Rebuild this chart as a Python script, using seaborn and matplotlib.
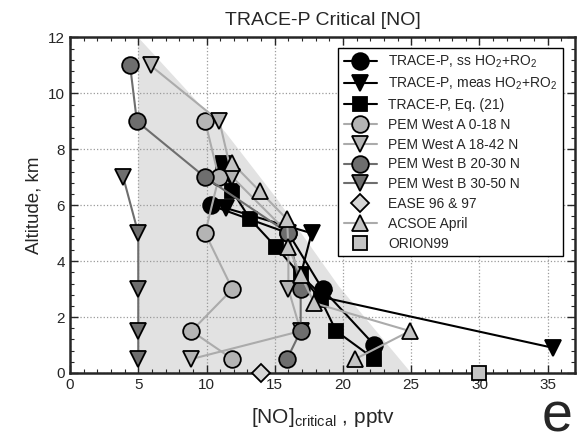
import numpy as np
import matplotlib
matplotlib.use("Agg")
import matplotlib.pyplot as plt
from matplotlib.ticker import MultipleLocator
import seaborn as sns

sns.set_style("ticks")
plt.rcParams.update({
    "font.family": ["Liberation Sans", "DejaVu Sans"],
    "mathtext.default": "regular",
    "xtick.direction": "in",
    "ytick.direction": "in",
    "xtick.top": True,
    "ytick.right": True,
})

BLACK = "#000000"
DARK = "#6e6e6e"
LIGHT = "#b4b4b4"
LIGHTLINE = "#ababab"
SHADE = "#e2e2e2"

# TRACE-P
ss_x = [10.3, 16.0, 18.5, 22.3]
ss_y = [6.0, 5.0, 3.0, 1.0]
meas_x = [11.4, 17.7, 16.9, 18.6, 35.4]
meas_y = [5.9, 5.0, 3.5, 2.7, 0.9]
eq_x = [11.2, 11.9, 13.2, 15.1, 16.9, 18.4, 19.5, 22.3]
eq_y = [7.5, 6.5, 5.5, 4.5, 3.5, 2.6, 1.5, 0.5]

# PEM West A / B
pwa1_x = [9.9, 10.9, 9.9, 11.9, 8.9, 11.9]
pwa1_y = [9.0, 7.0, 5.0, 3.0, 1.5, 0.5]
pwa2_x = [5.9, 10.95, 11.9, 16.0, 16.0, 16.9, 8.9]
pwa2_y = [11.0, 9.0, 7.0, 5.0, 3.0, 1.5, 0.5]
pwb1_x = [4.4, 4.9, 9.9, 16.0, 16.9, 16.9, 15.9]
pwb1_y = [11.0, 9.0, 7.0, 5.0, 3.0, 1.5, 0.5]
pwb2_x = [3.9, 5.0, 5.0, 5.0, 5.0]
pwb2_y = [7.0, 5.0, 3.0, 1.5, 0.5]

# others
ease_x = [14.0]
ease_y = [0.0]
acsoe_x = [11.9, 13.9, 15.9, 16.0, 16.9, 17.9, 24.9, 20.9]
acsoe_y = [7.5, 6.5, 5.5, 4.5, 3.5, 2.5, 1.5, 0.5]
orion_x = [30.0]
orion_y = [0.0]

# shaded envelope
shade_x = [5.0, 5.0, 11.4, 15.2, 19.7, 25.0]
shade_y = [0.0, 12.0, 8.6, 6.2, 3.1, 0.0]

fig = plt.figure(figsize=(5.82, 4.45), dpi=100)
ax = fig.add_axes([0.1203, 0.1618, 0.8677, 0.754])

ax.fill(shade_x, shade_y, color=SHADE, lw=0, zorder=0.5)


def series(x, y, label, marker, fill, line, ms=12, ls="-"):
    sns.lineplot(x=x, y=y, sort=False, estimator=None, ax=ax, label=label,
                 color=line, marker=marker, markersize=ms,
                 markerfacecolor=fill, markeredgecolor=BLACK,
                 markeredgewidth=1.3, linewidth=1.5, linestyle=ls,
                 clip_on=False, zorder=3)


series(ss_x, ss_y, "TRACE-P, ss HO$_2$+RO$_2$", "o", BLACK, BLACK)
series(meas_x, meas_y, "TRACE-P, meas HO$_2$+RO$_2$", "v", BLACK, BLACK)
series(eq_x, eq_y, "TRACE-P, Eq. (21)", "s", BLACK, BLACK, ms=10.5)
series(pwa1_x, pwa1_y, "PEM West A 0-18 N", "o", LIGHT, LIGHTLINE)
series(pwa2_x, pwa2_y, "PEM West A 18-42 N", "v", LIGHT, LIGHTLINE)
series(pwb1_x, pwb1_y, "PEM West B 20-30 N", "o", DARK, DARK)
series(pwb2_x, pwb2_y, "PEM West B 30-50 N", "v", DARK, DARK)
series(ease_x, ease_y, "EASE 96 & 97", "D", "#d6d6d6", BLACK, ms=9.5, ls="none")
series(acsoe_x, acsoe_y, "ACSOE April", "^", "#c4c4c4", LIGHTLINE)
series(orion_x, orion_y, "ORION99", "s", "#c4c4c4", BLACK, ms=10.5, ls="none")

ax.set_xlim(0, 37)
ax.set_ylim(0, 12)
ax.xaxis.set_major_locator(MultipleLocator(5))
ax.xaxis.set_minor_locator(MultipleLocator(1))
ax.yaxis.set_major_locator(MultipleLocator(2))
ax.yaxis.set_minor_locator(MultipleLocator(0.4))
ax.tick_params(which="major", length=6, width=1, labelsize=11)
ax.tick_params(which="minor", length=3, width=0.8)
ax.grid(True, which="major", linestyle=":", color="#9a9a9a", linewidth=0.9)
ax.set_axisbelow(True)
for s in ax.spines.values():
    s.set_linewidth(1.8)
    s.set_visible(True)

ax.set_title("TRACE-P Critical [NO]", fontsize=14, pad=9)
ax.set_ylabel("Altitude, km", fontsize=13.5)
ax.set_xlabel("[NO]$_{critical}$ , pptv", fontsize=15, labelpad=10)

leg = ax.legend(loc="upper right", bbox_to_anchor=(0.976, 0.969),
                borderaxespad=0, fontsize=10, frameon=True, fancybox=False,
                edgecolor=BLACK, framealpha=1, handlelength=2.4,
                labelspacing=0.42, numpoints=1)
leg.get_frame().set_linewidth(1.0)

fig.text(0.958, 0.003, "e", fontsize=40, ha="center", va="bottom")

fig.savefig("out.png", dpi=100)
